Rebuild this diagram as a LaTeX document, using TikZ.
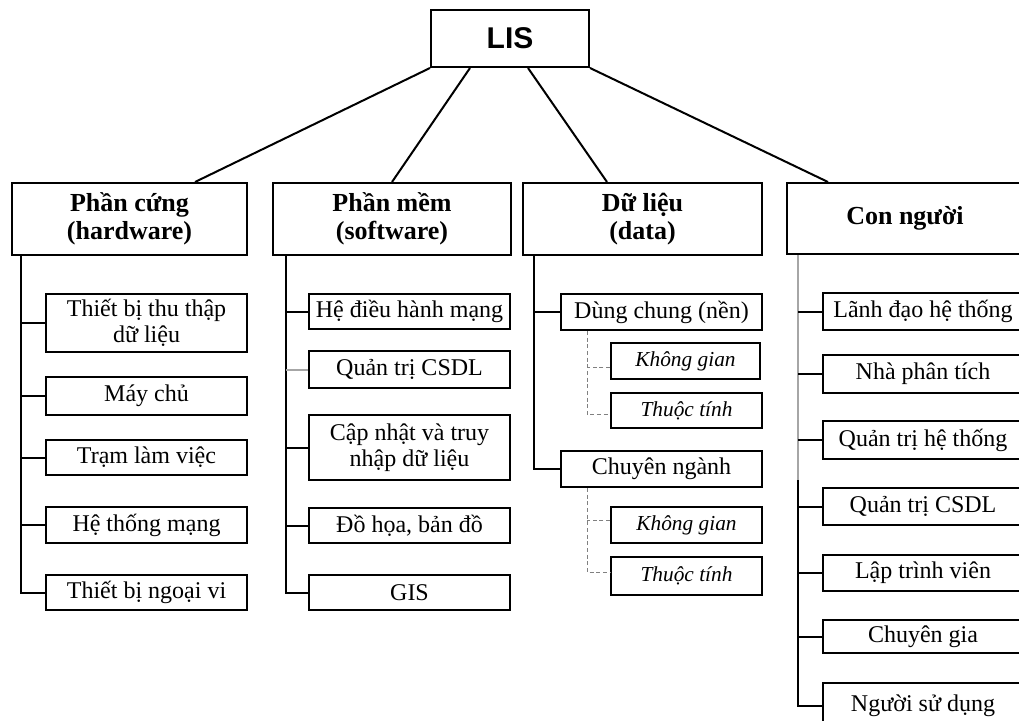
\documentclass[tikz,border=0pt]{standalone}
\usepackage{fontspec}
\setmainfont{Liberation Serif}
\newfontfamily\lisfont{Liberation Sans}
\usetikzlibrary{calc}

% \putbox{name}{x1}{y1}{x2}{y2}{style}{text}: a box given by its corners (px units)
\newcommand\putbox[7]{%
  \pgfmathsetmacro\bxw{(#4-#2)*0.75}%
  \pgfmathsetmacro\bxh{(#5-#3)*0.75}%
  \node[#6, minimum width=\bxw pt, minimum height=\bxh pt] (#1)
    at ({(#2+#4)/2},{(#3+#5)/2}) {#7};}

\tikzset{
  box/.style={draw, line width=1.5pt, inner sep=0pt, align=center,
    font=\fontsize{18}{19.5}\selectfont},
  head/.style={box, font=\bfseries\fontsize{19.5}{21}\selectfont},
  leaf/.style={box, font=\itshape\fontsize{16}{18}\selectfont},
  root/.style={box, font=\lisfont\bfseries\fontsize{22.5}{24}\selectfont},
  link/.style={line width=1.5pt},
  softlink/.style={line width=1.5pt, gray!70},
  dlink/.style={gray, line width=0.7pt, dash pattern=on 3pt off 2pt}
}

\begin{document}
\begin{tikzpicture}[x=0.75pt,y=-0.75pt]
\useasboundingbox (0,0) rectangle (1019,720);
\clip (0,0) rectangle (1019,720);

% root and the four components
\putbox{lis}{431}{10}{589}{67}{root}{LIS}
\putbox{hw}{12}{183}{247}{255}{head}{Phần cứng\\(hardware)}
\putbox{sw}{273}{183}{511}{255}{head}{Phần mềm\\(software)}
\putbox{dt}{523}{183}{762}{255}{head}{Dữ liệu\\(data)}
\putbox{pp}{787}{183}{1023}{254}{head}{Con người}

\draw[link] (lis.south west) -- ($(hw.north)+(65.5,0)$);
\draw[link] ($(lis.south)+(-40,0)$) -- (sw.north);
\draw[link] ($(lis.south)+(18,0)$) -- ($(dt.north)+(-35.5,0)$);
\draw[link] (lis.south east) -- ($(pp.north)+(-77,0)$);

% hardware
\putbox{h1}{46}{294}{247}{352}{box}{Thiết bị thu thập\\dữ liệu}
\putbox{h2}{46}{377}{247}{415}{box}{Máy chủ}
\putbox{h3}{46}{440}{247}{475}{box}{Trạm làm việc}
\putbox{h4}{46}{507}{247}{543}{box}{Hệ thống mạng}
\putbox{h5}{46}{575}{247}{610}{box}{Thiết bị ngoại vi}
\coordinate (hwt) at ($(hw.south west)+(10,0)$);
\draw[link] (hwt) |- (h5.west);
\foreach \n in {h1,h2,h3,h4} \draw[link] (\n.west) -- (\n.west -| hwt);

% software
\putbox{s1}{309}{294}{510}{329}{box}{Hệ điều hành mạng}
\putbox{s2}{309}{351}{510}{388}{box}{Quản trị CSDL}
\putbox{s3}{309}{415}{510}{480}{box}{Cập nhật và truy\\nhập dữ liệu}
\putbox{s4}{309}{508}{510}{543}{box}{Đồ họa, bản đồ}
\putbox{s5}{309}{575}{510}{610}{box}{GIS}
\coordinate (swt) at ($(sw.south west)+(14,0)$);
\draw[link] (swt) |- (s5.west);
\foreach \n in {s1,s3,s4} \draw[link] (\n.west) -- (\n.west -| swt);
\draw[softlink] (s2.west) -- (s2.west -| swt);

% data
\putbox{d1}{561}{294}{762}{330}{box}{Dùng chung (nền)}
\putbox{d1a}{611}{343}{760}{379}{leaf}{Không gian}
\putbox{d1b}{611}{393}{762}{428}{leaf}{Thuộc tính}
\putbox{d2}{561}{451}{762}{487}{box}{Chuyên ngành}
\putbox{d2a}{611}{507}{762}{543}{leaf}{Không gian}
\putbox{d2b}{611}{557}{762}{595}{leaf}{Thuộc tính}
\coordinate (dtt) at ($(dt.south west)+(12,0)$);
\draw[link] (dtt) |- (d2.west);
\draw[link] (d1.west) -- (d1.west -| dtt);
\coordinate (d1t) at ($(d1.south west)+(27,0)$);
\draw[dlink] (d1t) |- ($(d1b.west)+(0,4)$);
\draw[dlink] ($(d1a.west)+(0,6)$) -- ($(d1a.west -| d1t)+(0,6)$);
\coordinate (d2t) at ($(d2.south west)+(27,0)$);
\draw[dlink] (d2t) |- ($(d2b.west)+(0,-4)$);
\draw[dlink] ($(d2a.west)+(0,-5)$) -- ($(d2a.west -| d2t)+(0,-5)$);

% people
\putbox{p1}{823}{293}{1023}{330}{box}{Lãnh đạo hệ thống}
\putbox{p2}{823}{355}{1023}{393}{box}{Nhà phân tích}
\putbox{p3}{823}{421}{1023}{459}{box}{Quản trị hệ thống}
\putbox{p4}{823}{488}{1023}{525}{box}{Quản trị CSDL}
\putbox{p5}{823}{555}{1023}{591}{box}{Lập trình viên}
\putbox{p6}{823}{620}{1023}{653}{box}{Chuyên gia}
\putbox{p7}{823}{683}{1023}{729}{box}{Người sử dụng}
\coordinate (ppt) at ($(pp.south west)+(12,0)$);
\coordinate (ppm) at ($(p3.south -| ppt)+(0,20)$);
\draw[softlink] (ppt) -- (ppm);
\draw[link] (ppm) |- (p7.west);
\foreach \n in {p1,p2,p3,p4,p5,p6} \draw[link] (\n.west) -- (\n.west -| ppt);
\end{tikzpicture}
\end{document}
